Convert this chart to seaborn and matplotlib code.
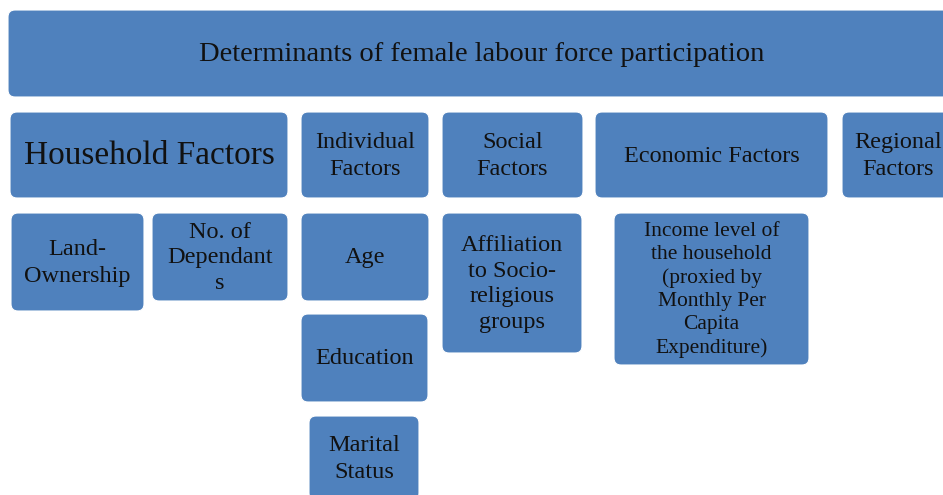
"""
Diagrama de bloques: determinantes de la participación laboral femenina.
"""

import matplotlib.pyplot as plt
import seaborn as sns
from matplotlib.patches import FancyBboxPatch

# Textos del diagrama
titulo = "Determinants of female labour force participation"
grupos = ["Household Factors", "Individual\nFactors", "Social\nFactors",
          "Economic Factors", "Regional\nFactors"]
factores = ["Land-\nOwnership", "No. of\nDependant\ns", "Age", "Education",
            "Marital\nStatus", "Affiliation\nto Socio-\nreligious\ngroups",
            "Income level of\nthe household\n(proxied by\nMonthly Per\nCapita\nExpenditure)"]

# Geometría en píxeles: (x0, y0, x1, y1), y hacia abajo
caja_titulo = (8, 10, 955, 97)
cajas_grupos = [(10, 112, 288, 198), (301, 112, 429, 198), (442, 112, 583, 198),
                (595, 112, 828, 198), (842, 112, 955, 198)]
cajas_factores = [(11, 213, 144, 311), (152, 213, 288, 301), (301, 213, 429, 301),
                  (301, 314, 428, 402), (309, 416, 419, 500), (442, 213, 582, 353),
                  (614, 213, 809, 365)]
tam_grupos = [24, 17.5, 17.5, 17.5, 17.5]
tam_factores = [17.5, 17.5, 17.5, 17.5, 17.5, 17.5, 15.5]
esp_factores = [1.35, 1.3, 1.3, 1.3, 1.35, 1.28, 1.3]

sns.set_theme(style="white")
plt.rcParams['font.family'] = ['Liberation Serif', 'DejaVu Serif']

azul = "#4F81BD"
texto = "#111111"

fig = plt.figure(figsize=(9.43, 4.95), dpi=100)
ax = fig.add_axes([0, 0, 1, 1])
ax.set_xlim(0, 943)
ax.set_ylim(495, 0)
ax.axis("off")


def caja(rect, etiqueta, size, ls=1.35):
    x0, y0, x1, y1 = rect
    r = 7
    ax.add_patch(FancyBboxPatch((x0 + r, y0 + r), x1 - x0 - 2 * r, y1 - y0 - 2 * r,
                                boxstyle=f"round,pad={r}", fc=azul, ec="white",
                                lw=0.8))
    ax.text((x0 + x1) / 2, (y0 + y1) / 2 + 1, etiqueta, ha="center", va="center",
            multialignment="center", fontsize=size, color=texto, linespacing=ls)


caja(caja_titulo, titulo, 20.5)
for rect, etq, s in zip(cajas_grupos, grupos, tam_grupos):
    caja(rect, etq, s)
for rect, etq, s, ls in zip(cajas_factores, factores, tam_factores, esp_factores):
    caja(rect, etq, s, ls)

fig.savefig("out.png", dpi=100)
